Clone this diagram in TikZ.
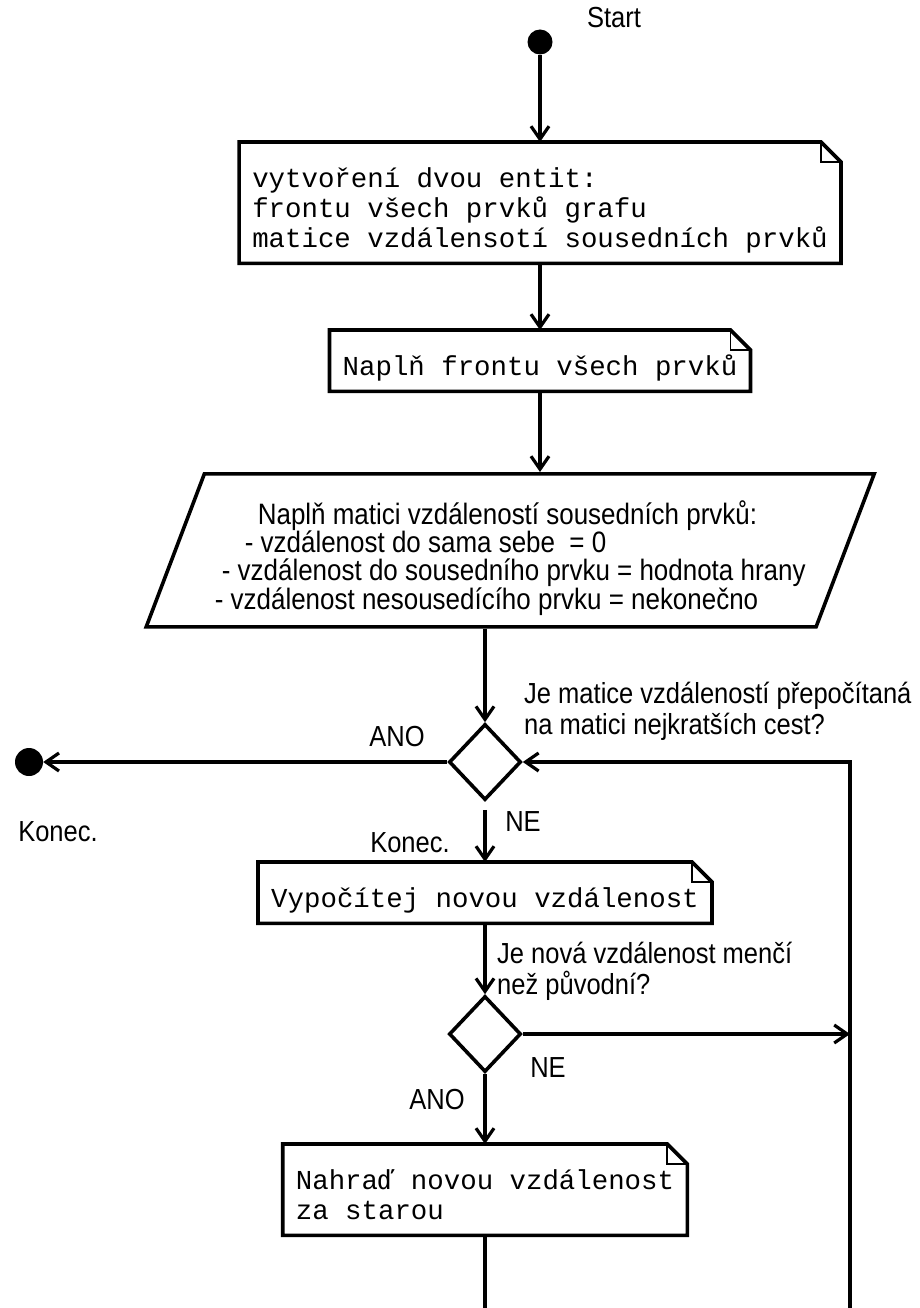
\documentclass[tikz,border=0pt]{standalone}
\usepackage{fontspec}
\setmainfont{Liberation Sans}
\newfontfamily\labelfont[FakeStretch=0.88]{Liberation Sans}
\newfontfamily\codefont{Liberation Mono}
\usetikzlibrary{shapes.geometric,arrows.meta}
\def\firstln{\rule{0pt}{41pt}}
\def\lastln{\rule[-12pt]{0pt}{12pt}}
\tikzset{
  dot/.style={circle, fill, inner sep=0pt, minimum size=25pt},
  lbl/.style={font=\labelfont\fontsize{29}{31}\selectfont, inner sep=0pt, align=left},
  notebox/.style={font=\codefont\fontsize{27.4}{30}\selectfont, align=left,
    inner xsep=13pt, inner ysep=4pt, anchor=north},
  iobox/.style={trapezium, trapezium left angle=67, trapezium right angle=113,
    trapezium stretches body=true, draw, line width=3.6pt,
    minimum width=728pt, minimum height=153pt, align=left,
    font=\labelfont\fontsize{29.5}{27.5}\selectfont},
  decision/.style={diamond, draw, line width=3.6pt, minimum width=72pt,
    minimum height=76pt, inner sep=0pt},
  flow/.style={line width=3.2pt, -{Straight Barb[length=13pt,width=18pt]}}
}
\begin{document}
\begin{tikzpicture}[x=1pt, y=-1pt]
\useasboundingbox (0,0) rectangle (920,1308);
% main column
\node[dot] (start) at (540,42) {};
\node[notebox] (init) at (540,142) {\firstln vytvoření dvou entit:\\frontu všech prvků grafu\\matice vzdálensotí sousedních prvků\lastln};
\node[notebox] (queue) at (540,330) {\firstln Naplň frontu všech prvků\lastln};
\node[iobox, anchor=top side] (dist) at (540,472) {\rule{0pt}{39pt}\hspace*{43pt}Naplň matici vzdáleností sousedních prvků:\\
\hspace*{30pt}- vzdálenost do sama sebe \ = 0\\
\hspace*{7pt}- vzdálenost do sousedního prvku = hodnota hrany\\
- vzdálenost nesousedícího prvku = nekonečno};
\node[decision] (test) at (485,762) {};
\node[dot, minimum height=28pt] (stop) at (29,762) {};
\node[notebox] (calc) at (485,862) {\firstln Vypočítej novou vzdálenost\lastln};
\node[decision] (cmp) at (485,1034) {};
\node[notebox] (swap) at (485,1144) {\firstln Nahraď novou vzdálenost\\za starou\lastln};
\coordinate (swapend) at (485,1308);
\coordinate (loopend) at (850,1308);
% texts
\node[lbl] (startlbl) at (614,18) {Start};
\node[lbl] (ano1) at (397,737) {ANO};
\node[lbl] (konec1) at (58,832) {Konec.};
\node[lbl, anchor=west] (q1) at (524,711) {Je matice vzdáleností přepočítaná\\na matici nejkratších cest?};
\node[lbl] (ne1) at (523,822) {NE};
\node[lbl] (konec2) at (410,843) {Konec.};
\node[lbl, anchor=west] (q2) at (497,971) {Je nová vzdálenost menčí\\než původní?};
\node[lbl] (ne2) at (548,1068) {NE};
\node[lbl] (ano2) at (437,1100) {ANO};
% folded corners
\foreach \n in {init,queue,calc,swap} {
  \draw[line width=3.6pt] (\n.north west) -- ([xshift=-20pt]\n.north east)
    -- ([yshift=-20pt]\n.north east) -- (\n.south east) -- (\n.south west) -- cycle;
  \draw[line width=1.8pt] ([xshift=-20pt]\n.north east) |- ([yshift=-20pt]\n.north east);
}
% connectors
\draw[flow] (start) -- (init.north);
\draw[flow] (init.south) -- (queue.north);
\draw[flow] (queue.south) -- (dist.top side);
\draw[flow] (dist.bottom side -| test.north) -- (test.north);
\draw[flow] (test.west) -- (stop);
\draw[flow, shorten <=8pt] (test.south) -- (calc.north);
\draw[flow] (calc.south) -- (cmp.north);
\draw[flow] (cmp.east) -- (cmp.east -| loopend);
\draw[flow] (cmp.south) -- (swap.north);
\draw[line width=3.2pt] (swap.south) -- (swapend);
\draw[flow] (loopend) |- (test.east);
\end{tikzpicture}
\end{document}
